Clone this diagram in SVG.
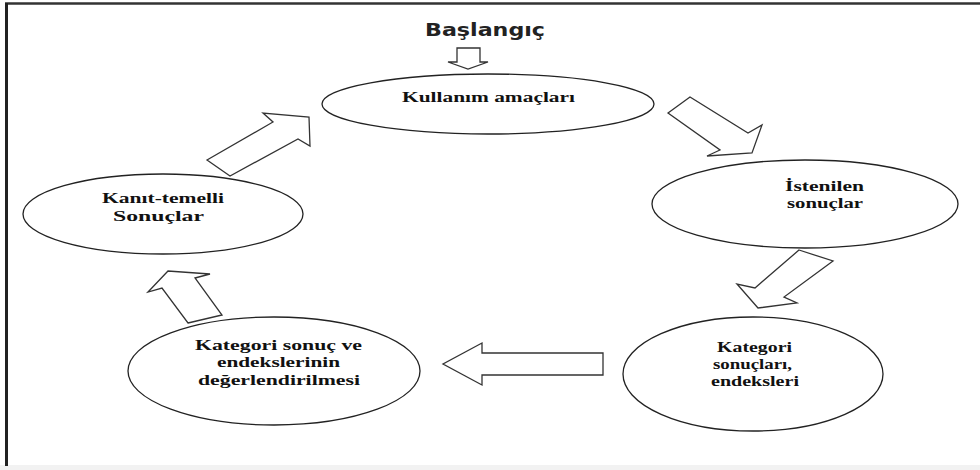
<svg xmlns="http://www.w3.org/2000/svg" width="980" height="470" viewBox="0 0 980 470">
<style>
.node ellipse{fill:#fff;stroke:#222;stroke-width:1.3}
.lbl{font-family:"Liberation Serif","Times New Roman",serif;font-weight:bold;font-size:14px;fill:#111;text-anchor:start}
.title{font-family:"DejaVu Sans","Liberation Sans",sans-serif;font-weight:bold;font-size:17px;fill:#222}
.arr polygon{fill:#fff;stroke:#333;stroke-width:1.3;stroke-linejoin:miter}
</style>
<rect x="0" y="0" width="980" height="470" fill="#fff"/>
<rect x="0" y="465" width="980" height="5" fill="#f2f2f2"/>
<g id="frame">
<line x1="5" y1="3.5" x2="980" y2="3.5" stroke="#333" stroke-width="2.5"/>
<line x1="6.5" y1="3" x2="6.5" y2="466" stroke="#222" stroke-width="3"/>
</g>
<text id="start" class="title" x="425" y="35.5" textLength="120" lengthAdjust="spacingAndGlyphs">Başlangıç</text>
<g id="n1" class="node">
<ellipse cx="488" cy="104" rx="166" ry="30"/>
<text class="lbl" x="402" y="102" textLength="173" lengthAdjust="spacingAndGlyphs">Kullanım amaçları</text>
</g>
<g id="n2" class="node">
<ellipse cx="805" cy="204" rx="153" ry="44"/>
<text class="lbl" x="785" y="191" textLength="79" lengthAdjust="spacingAndGlyphs">İstenilen</text>
<text class="lbl" x="787" y="208" textLength="76" lengthAdjust="spacingAndGlyphs">sonuçlar</text>
</g>
<g id="n3" class="node">
<ellipse cx="753" cy="374" rx="130" ry="57"/>
<text class="lbl" x="717" y="352" textLength="75" lengthAdjust="spacingAndGlyphs">Kategori</text>
<text class="lbl" x="713" y="369" textLength="79" lengthAdjust="spacingAndGlyphs">sonuçları,</text>
<text class="lbl" x="711" y="386" textLength="88" lengthAdjust="spacingAndGlyphs">endeksleri</text>
</g>
<g id="n4" class="node">
<ellipse cx="274" cy="371" rx="146" ry="54"/>
<text class="lbl" x="195" y="350" textLength="167" lengthAdjust="spacingAndGlyphs">Kategori sonuç ve</text>
<text class="lbl" x="217" y="367" textLength="123" lengthAdjust="spacingAndGlyphs">endekslerinin</text>
<text class="lbl" x="198" y="385" textLength="162" lengthAdjust="spacingAndGlyphs">değerlendirilmesi</text>
</g>
<g id="n5" class="node">
<ellipse cx="163" cy="214" rx="140" ry="40"/>
<text class="lbl" x="102" y="203" textLength="122" lengthAdjust="spacingAndGlyphs">Kanıt-temelli</text>
<text class="lbl" x="113" y="221" textLength="91" lengthAdjust="spacingAndGlyphs">Sonuçlar</text>
</g>
<g id="connectors" class="arr">
<polygon points="457,48 480,48 480,62 488,62 468,69 448,62 457,62"/>
<polygon points="668,113 690,97 748,133 762,125 752,153 707,156 720,150"/>
<polygon points="799,250 833,261 784,297 797,303 758,308 737,284 755,288"/>
<polygon points="603,353 482,353 482,343 443,364 482,385 482,375 603,375"/>
<polygon points="188,323 222,315 195,278 210,274 168,271 148,292 162,288"/>
<polygon points="207,160 230,176 298,139 310,146 309,117 263,113 273,122"/>
</g>
</svg>
